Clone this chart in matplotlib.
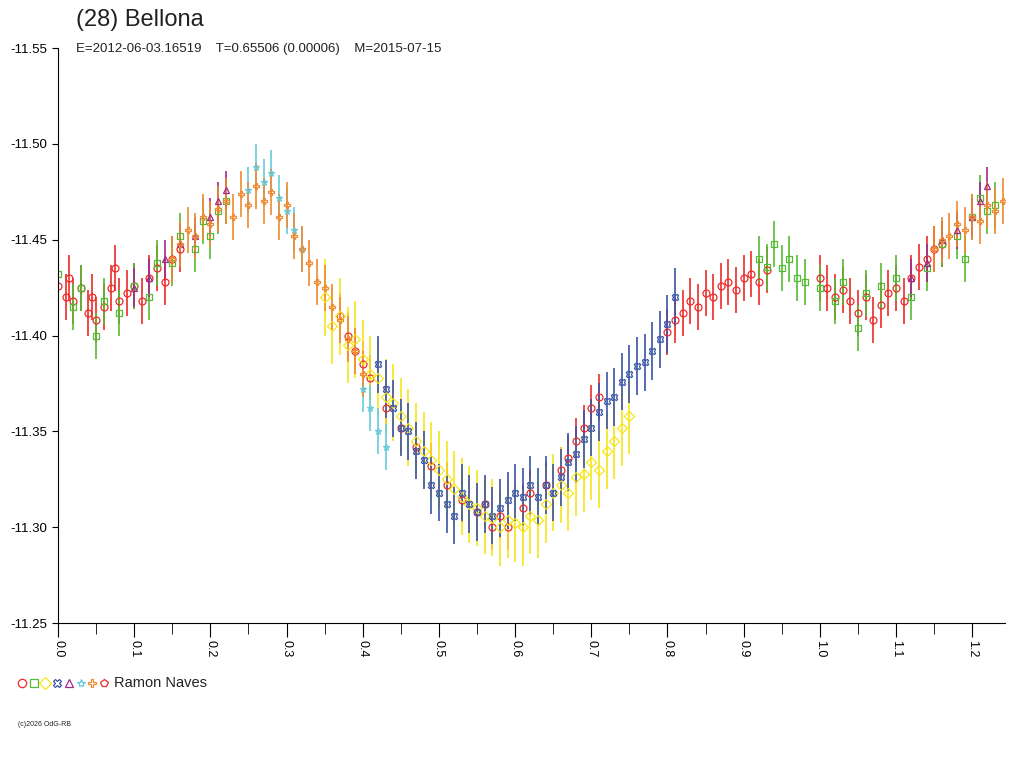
import matplotlib
matplotlib.use("Agg")
from matplotlib import pyplot as plt
from matplotlib.ticker import MultipleLocator

plt.rcParams['font.family'] = ['Liberation Sans', 'DejaVu Sans']

title = "(28) Bellona"
subtitle = "E=2012-06-03.16519    T=0.65506 (0.00006)    M=2015-07-15"
observer = "Ramon Naves"

# red circles
red_ph = [0.00, 0.01, 0.015, 0.02, 0.03, 0.04, 0.045, 0.05, 0.06, 0.07, 0.075, 0.08, 0.09, 0.10, 0.11, 0.12, 0.13, 0.14, 0.15, 0.16,
          0.37, 0.38, 0.39, 0.40, 0.41, 0.43, 0.45, 0.47, 0.49, 0.51, 0.53, 0.55, 0.56, 0.57, 0.58, 0.59, 0.61, 0.62, 0.64, 0.66, 0.67, 0.68, 0.69, 0.70, 0.71,
          0.80, 0.81, 0.82, 0.83, 0.84, 0.85, 0.86, 0.87, 0.88, 0.89, 0.90, 0.91, 0.92, 0.93,
          1.00, 1.01, 1.02, 1.03, 1.04, 1.05, 1.06, 1.07, 1.08, 1.09, 1.10, 1.11, 1.12, 1.13, 1.14, 1.15, 1.16]
red_mag = [-11.426, -11.420, -11.430, -11.418, -11.425, -11.412, -11.420, -11.408, -11.415, -11.425, -11.435, -11.418, -11.422, -11.426, -11.418, -11.430, -11.435, -11.428, -11.440, -11.445,
           -11.410, -11.400, -11.392, -11.385, -11.378, -11.362, -11.352, -11.342, -11.332, -11.322, -11.314, -11.308, -11.312, -11.300, -11.306, -11.300, -11.310, -11.318, -11.322, -11.330, -11.336, -11.345, -11.352, -11.362, -11.368,
           -11.402, -11.408, -11.412, -11.418, -11.415, -11.422, -11.420, -11.426, -11.428, -11.424, -11.430, -11.432, -11.428, -11.434,
           -11.430, -11.425, -11.420, -11.424, -11.418, -11.412, -11.420, -11.408, -11.416, -11.422, -11.425, -11.418, -11.430, -11.436, -11.440, -11.445, -11.448]
red_err = 0.012

# green squares
green_ph = [0.00, 0.02, 0.03, 0.05, 0.06, 0.08, 0.10, 0.12, 0.13, 0.15, 0.16, 0.18, 0.19, 0.20, 0.21, 0.22,
            0.92, 0.93, 0.94, 0.95, 0.96, 0.97, 0.98, 1.00, 1.02, 1.03, 1.05, 1.06, 1.08, 1.10, 1.12, 1.14, 1.16, 1.18, 1.19, 1.20, 1.21, 1.22, 1.23]
green_mag = [-11.432, -11.415, -11.425, -11.400, -11.418, -11.412, -11.426, -11.420, -11.438, -11.438, -11.452, -11.445, -11.460, -11.452, -11.465, -11.470,
             -11.440, -11.436, -11.448, -11.435, -11.440, -11.430, -11.428, -11.425, -11.418, -11.428, -11.404, -11.422, -11.426, -11.430, -11.420, -11.435, -11.448, -11.452, -11.440, -11.462, -11.472, -11.465, -11.468]
green_err = 0.012

# yellow diamonds
yellow_ph = [0.35, 0.36, 0.37, 0.38, 0.39, 0.40, 0.41, 0.42, 0.43, 0.44, 0.45, 0.46, 0.47, 0.48, 0.49, 0.50, 0.51, 0.52, 0.53, 0.54, 0.55, 0.56,
             0.57, 0.58, 0.59, 0.60, 0.61, 0.62, 0.63, 0.64, 0.65, 0.66, 0.67, 0.68, 0.69, 0.70, 0.71, 0.72, 0.73, 0.74, 0.75]
yellow_mag = [-11.420, -11.405, -11.410, -11.395, -11.398, -11.388, -11.380, -11.378, -11.368, -11.365, -11.358, -11.352, -11.345, -11.340, -11.335, -11.330, -11.325, -11.320, -11.316, -11.312, -11.310, -11.306,
              -11.305, -11.300, -11.304, -11.302, -11.300, -11.306, -11.304, -11.312, -11.318, -11.322, -11.318, -11.326, -11.328, -11.334, -11.330, -11.340, -11.345, -11.352, -11.358]
yellow_err = 0.02

# blue crosses
blue_ph = [0.42, 0.43, 0.44, 0.45, 0.46, 0.47, 0.48, 0.49, 0.50, 0.51, 0.52, 0.53, 0.54, 0.55, 0.56, 0.57, 0.58, 0.59, 0.60, 0.61, 0.62, 0.63, 0.64,
           0.65, 0.66, 0.67, 0.68, 0.69, 0.70, 0.71, 0.72, 0.73, 0.74, 0.75, 0.76, 0.77, 0.78, 0.79, 0.80, 0.81]
blue_mag = [-11.385, -11.372, -11.362, -11.352, -11.350, -11.340, -11.335, -11.322, -11.318, -11.312, -11.306, -11.318, -11.312, -11.308, -11.312, -11.306, -11.310, -11.314, -11.318, -11.316, -11.322, -11.316, -11.322,
            -11.318, -11.326, -11.334, -11.338, -11.346, -11.352, -11.360, -11.366, -11.368, -11.376, -11.380, -11.384, -11.386, -11.392, -11.398, -11.406, -11.420]
blue_err = 0.015

# purple triangles
purple_ph = [0.10, 0.12, 0.14, 0.16, 0.18, 0.20, 0.21, 0.22, 1.12, 1.14, 1.16, 1.18, 1.20, 1.21, 1.22]
purple_mag = [-11.425, -11.430, -11.440, -11.448, -11.452, -11.462, -11.470, -11.476, -11.430, -11.438, -11.450, -11.455, -11.462, -11.470, -11.478]
purple_err = 0.01

# cyan stars
cyan_ph = [0.25, 0.26, 0.27, 0.28, 0.29, 0.30, 0.31, 0.32, 0.40, 0.41, 0.42, 0.43]
cyan_mag = [-11.476, -11.488, -11.480, -11.485, -11.472, -11.465, -11.455, -11.445, -11.372, -11.362, -11.350, -11.342]
cyan_err = 0.012

# orange four-point stars
orange_ph = [0.15, 0.16, 0.17, 0.18, 0.19, 0.20, 0.21, 0.22, 0.23, 0.24, 0.25, 0.26, 0.27, 0.28, 0.29, 0.30, 0.31, 0.32, 0.33, 0.34, 0.35, 0.36, 0.37, 0.38, 0.39, 0.40,
             1.15, 1.16, 1.17, 1.18, 1.19, 1.20, 1.21, 1.22, 1.23, 1.24]
orange_mag = [-11.440, -11.448, -11.455, -11.452, -11.462, -11.458, -11.466, -11.470, -11.462, -11.474, -11.468, -11.478, -11.470, -11.475, -11.462, -11.468, -11.452, -11.445, -11.438, -11.428, -11.425, -11.415, -11.408, -11.398, -11.392, -11.380,
              -11.445, -11.450, -11.452, -11.458, -11.455, -11.462, -11.460, -11.468, -11.465, -11.470]
orange_err = 0.012

series = [
    (red_ph, red_mag, red_err, '#ee2a2a', 'o'),
    (green_ph, green_mag, green_err, '#55bb33', 's'),
    (yellow_ph, yellow_mag, yellow_err, '#f5e61a', 'D'),
    (blue_ph, blue_mag, blue_err, '#3a55a5', 'X'),
    (purple_ph, purple_mag, purple_err, '#a2288a', '^'),
    (cyan_ph, cyan_mag, cyan_err, '#66ccdd', '*'),
    (orange_ph, orange_mag, orange_err, '#f08a30', 'P'),
]

fig = plt.figure(figsize=(10.24, 7.68), dpi=100)
ax = fig.add_axes([58 / 1024, 1 - 623 / 768, 947 / 1024, 575 / 768])

for ph, mag, err, col, mk in series:
    ax.errorbar(ph, mag, yerr=err, fmt=mk, color=col, mfc='none', mec=col,
                ms=5, mew=0.9, elinewidth=1.2, capsize=0)

ax.set_xlim(0, 1.243)
ax.set_ylim(-11.25, -11.55)
ax.yaxis.set_major_locator(MultipleLocator(0.05))
ax.xaxis.set_major_locator(MultipleLocator(0.1))
ax.xaxis.set_minor_locator(MultipleLocator(0.05))
ax.set_yticklabels([f"{v:.2f}" for v in ax.get_yticks()])
ax.set_xticklabels([f"{v:.1f}" for v in ax.get_xticks()], rotation=270)
ax.tick_params(axis='x', which='major', length=10, labelsize=9, pad=2)
ax.tick_params(axis='x', which='minor', length=8)
ax.tick_params(axis='y', length=4, labelsize=9.5)
for s in ['top', 'right']:
    ax.spines[s].set_visible(False)

fig.text(76 / 1024, 1 - 20 / 768, title, fontsize=17, va='center', color='#222222')
fig.text(76 / 1024, 1 - 49 / 768, subtitle, fontsize=9.5, va='center', color='#222222')

# legend row
leg_marks = ['o', 's', 'D', 'X', '^', '*', 'P', 'p']
leg_cols = ['#ee2a2a', '#55bb33', '#f5e61a', '#3a55a5', '#a2288a', '#66ccdd', '#f08a30', '#ee2a2a']
for i, (mk, col) in enumerate(zip(leg_marks, leg_cols)):
    fig.lines.append(plt.Line2D([(22 + i * 11.7) / 1024], [1 - 683 / 768], marker=mk, color=col,
                                mfc='none', ms=6, mew=0.9, transform=fig.transFigure))
fig.text(114 / 1024, 1 - 683 / 768, observer, fontsize=10.5, va='center', color='#222222')
fig.text(18 / 1024, 1 - 724 / 768, "(c)2026 OdG-RB", fontsize=5, va='center', color='#222222')

fig.savefig("out.png", dpi=100)
